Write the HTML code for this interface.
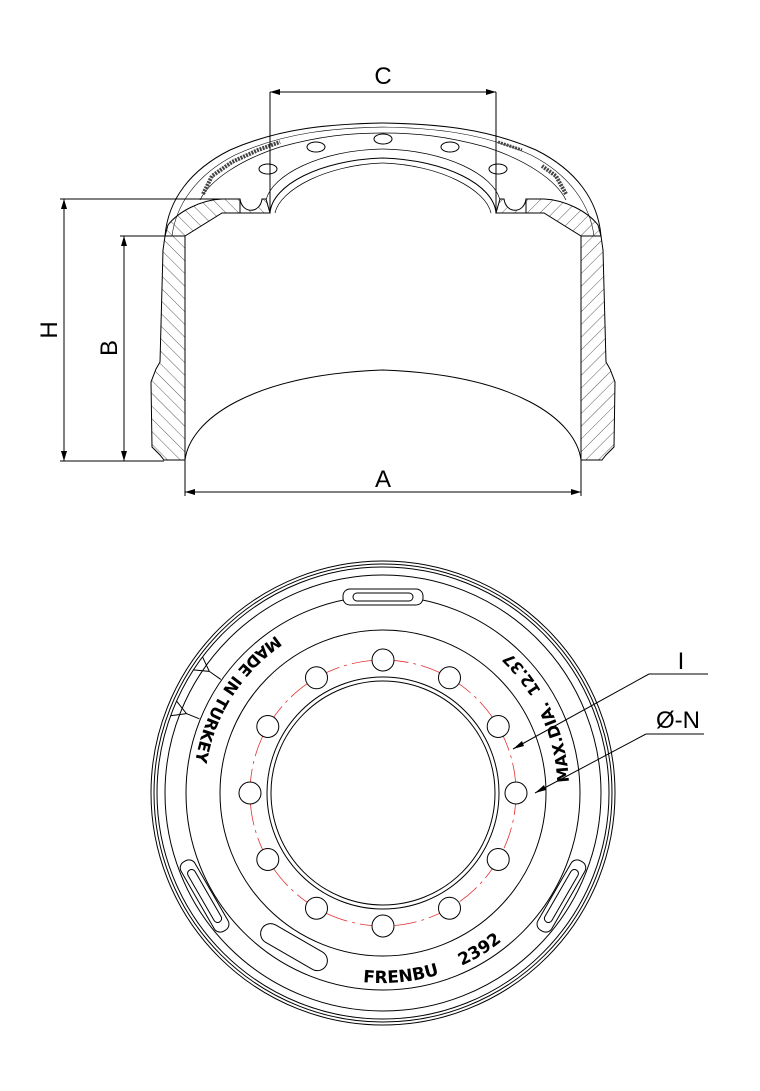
<!DOCTYPE html>
<html><head><meta charset="utf-8"><style>html,body{margin:0;padding:0;background:#fff}svg{display:block}</style></head>
<body>
<svg width="760" height="1091" viewBox="0 0 760 1091" xmlns="http://www.w3.org/2000/svg" font-family="Liberation Sans, sans-serif">
<defs>
<pattern id="h" patternUnits="userSpaceOnUse" width="9" height="9" patternTransform="rotate(-45)">
<line x1="0" y1="0" x2="0" y2="9" stroke="#333" stroke-width="0.8"/>
</pattern>
<path id="pL" d="M -95,-165 A 190 190 0 0 0 -186,40" fill="none"/>
<path id="pR" d="M 186,-5 A 190 190 0 0 0 95,-165" fill="none"/>
<path id="pB" d="M -20,189 A 190 190 0 0 0 160,102" fill="none"/>
</defs>
<g fill="none" stroke="#000" stroke-width="1">
<path d="M165,236 C168,200 190,170 230,150 C280,128 330,124 383,123 C436,124 486,128 536,150 C576,170 598,200 601,236"/>
<path d="M172,236 C176,205 196,175 235,155 C285,132 335,128 383,127 C431,128 481,132 531,155 C570,175 590,205 594,236" stroke-width="0.6"/>
<path d="M200,200 C210,180 240,160 280,147 C320,136 350,133 383,133 C416,133 446,136 486,147 C526,160 556,180 566,200" stroke-width="0.7"/>
<path d="M270,213 C272,185 320,160 383,158 C446,160 494,185 496,213"/>
<path d="M266,200 C272,175 320,150 383,149 C446,150 494,175 500,200" stroke-width="0.7"/>
<path d="M275,213 C280,190 325,165 383,163 C441,165 486,190 491,213" stroke-width="0.7"/>
<ellipse cx="383" cy="139" rx="9" ry="5"/>
<ellipse cx="316" cy="147" rx="9" ry="5"/>
<ellipse cx="450" cy="147" rx="9" ry="5"/>
<ellipse cx="268" cy="169" rx="9" ry="5"/>
<ellipse cx="498" cy="169" rx="9" ry="5"/>
<path d="M203,194 L212,176 L232,162 L258,150 L280,142" stroke="#444" stroke-width="4" stroke-dasharray="2 1"/>
<path d="M566,194 L556,176 L542,166" stroke="#444" stroke-width="4" stroke-dasharray="2 1"/>
<path d="M498,142 L522,150" stroke="#444" stroke-width="3" stroke-dasharray="2 1"/>
<g>
<path d="M165,236 L185,236 L185,460 L164,460 L160,455 L152,447 L151,382 L156,369 L160,362 L163,250 Z" fill="url(#h)"/>
<path d="M165,236 L185,236 L222,213 L240,213 L240,199 L222,199 C200,200 178,212 168,225 Z" fill="url(#h)"/>
<path d="M240,199 C242,214 260,214 262,199 L266,199 L270,213 L240,213 Z" fill="url(#h)"/>
</g>
<g transform="translate(766,0) scale(-1,1)">
<path d="M165,236 L185,236 L185,460 L164,460 L160,455 L152,447 L151,382 L156,369 L160,362 L163,250 Z" fill="url(#h)"/>
<path d="M165,236 L185,236 L222,213 L240,213 L240,199 L222,199 C200,200 178,212 168,225 Z" fill="url(#h)"/>
<path d="M240,199 C242,214 260,214 262,199 L266,199 L270,213 L240,213 Z" fill="url(#h)"/>
</g>
<path d="M185,460 C190,420 250,375 383,370 C516,375 576,420 581,460"/>
<line x1="270" y1="92" x2="270" y2="213"/>
<line x1="496" y1="92" x2="496" y2="213"/>
<line x1="270" y1="92" x2="496" y2="92"/>
<line x1="60" y1="199" x2="240" y2="199"/>
<line x1="60" y1="461" x2="164" y2="461"/>
<line x1="64" y1="199" x2="64" y2="461"/>
<line x1="120" y1="236" x2="185" y2="236"/>
<line x1="124" y1="236" x2="124" y2="461"/>
<line x1="185" y1="460" x2="185" y2="496"/>
<line x1="581" y1="460" x2="581" y2="496"/>
<line x1="185" y1="492" x2="581" y2="492"/>
</g>
<path d="M280,89 L270,92 L280,95z M486,89 L496,92 L486,95z M61,209 L64,199 L67,209z M61,451 L64,461 L67,451z M121,246 L124,236 L127,246z M121,451 L124,461 L127,451z M195,489 L185,492 L195,495z M571,489 L581,492 L571,495z" fill="#000"/>
<g font-size="24" fill="#000">
<text x="383" y="84" text-anchor="middle">C</text>
<text x="383" y="487" text-anchor="middle">A</text>
<text transform="translate(57,330) rotate(-90)" text-anchor="middle">H</text>
<text transform="translate(117,348) rotate(-90)" text-anchor="middle">B</text>
<text x="681" y="669" text-anchor="middle">I</text>
<text x="678" y="728" text-anchor="middle">Ø-N</text>
</g>
<g transform="translate(383,793)">
<g fill="none" stroke="#000" stroke-width="1">
<circle r="232"/><circle r="229"/><circle r="226"/><circle r="218"/>
<circle r="197"/><circle r="163"/><circle r="116"/><circle r="112"/>
<circle r="133" stroke="#e03030" stroke-width="0.8" stroke-dasharray="22 5 3 5"/>
<g fill="#fff">
<circle cx="0" cy="-133" r="11"/><circle cx="66.5" cy="-115.2" r="11"/><circle cx="115.2" cy="-66.5" r="11"/>
<circle cx="133" cy="0" r="11"/><circle cx="115.2" cy="66.5" r="11"/><circle cx="66.5" cy="115.2" r="11"/>
<circle cx="0" cy="133" r="11"/><circle cx="-66.5" cy="115.2" r="11"/><circle cx="-115.2" cy="66.5" r="11"/>
<circle cx="-133" cy="0" r="11"/><circle cx="-115.2" cy="-66.5" r="11"/><circle cx="-66.5" cy="-115.2" r="11"/>
</g>
<rect x="-40" y="-204" width="80" height="16" rx="7" fill="#fff"/>
<rect x="-30" y="-200" width="60" height="8" rx="4"/>
<g transform="rotate(-120)"><rect x="-40" y="-214" width="80" height="16" rx="7" fill="#fff"/><rect x="-30" y="-210" width="60" height="8" rx="4"/></g>
<g transform="rotate(120)"><rect x="-40" y="-214" width="80" height="16" rx="7" fill="#fff"/><rect x="-30" y="-210" width="60" height="8" rx="4"/></g>
<g transform="rotate(-150)"><rect x="-37" y="-188" width="74" height="20" rx="10" fill="#fff"/></g>
<g transform="rotate(-55)"><path d="M-8,-226 L0,-212 L8,-226 M0,-212 L0,-198"/></g>
<g transform="rotate(-68)"><path d="M-8,-226 L0,-212 L8,-226 M0,-212 L0,-198"/></g>
</g>
<g fill="#000" font-weight="bold" font-size="16" font-family="DejaVu Sans, Liberation Sans, sans-serif">
<text><textPath href="#pL" startOffset="14">MADE IN TURKEY</textPath></text>
<text><textPath href="#pR" startOffset="6">MAX.DIA.&#160;&#160;12.37</textPath></text>
<text font-size="17"><textPath href="#pB" startOffset="0">FRENBU&#160;&#160;&#160;&#160;2392</textPath></text>
</g>
</g>
<g stroke="#000" fill="none" stroke-width="1">
<line x1="649" y1="674" x2="708" y2="674"/>
<line x1="649" y1="674" x2="513" y2="749"/>
<line x1="646" y1="734" x2="704" y2="734"/>
<line x1="646" y1="734" x2="535" y2="793"/>
</g>
<path d="M513,749 L522,741 L524,746z M535,793 L544,785 L546,790z" fill="#000"/>
</svg>
</body></html>
